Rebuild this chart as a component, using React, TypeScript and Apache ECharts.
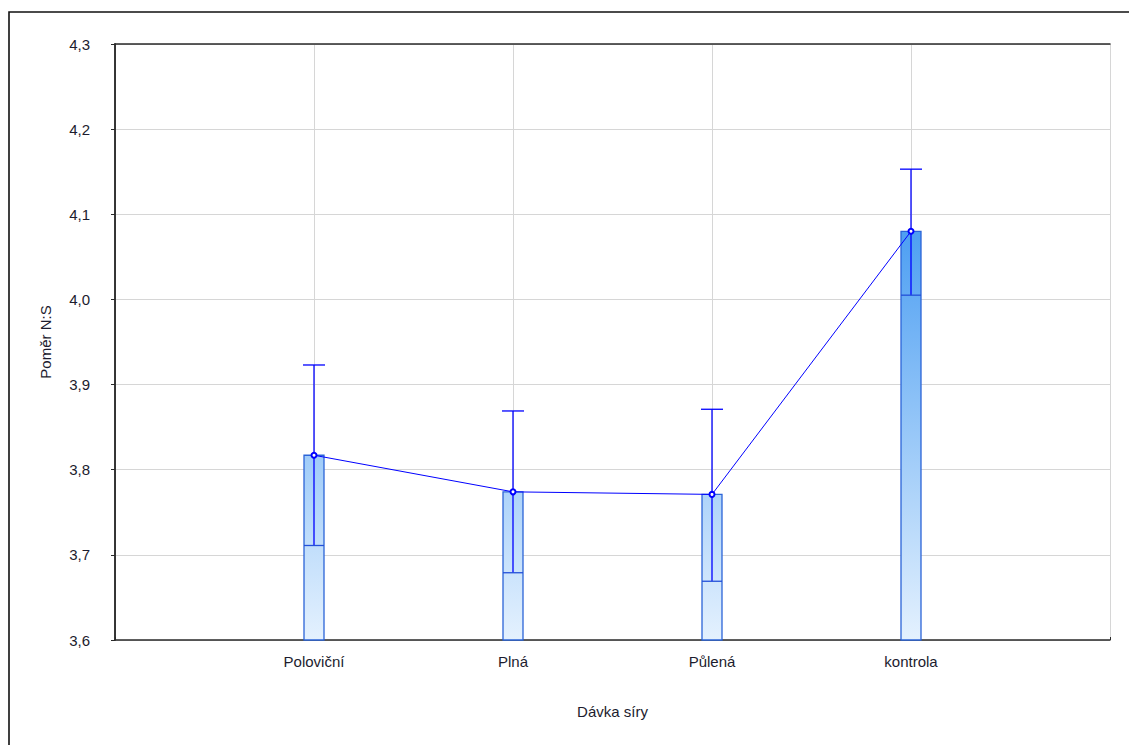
import React, { useEffect, useRef } from "react";
import * as echarts from "echarts";

const categories = ["Poloviční", "Plná", "Půlená", "kontrola"];
const categoryPositions = [1, 2, 3, 4];
const means = [3.817, 3.774, 3.771, 4.08];
const lowerBounds = [3.711, 3.679, 3.669, 4.005];
const upperBounds = [3.923, 3.869, 3.871, 4.153];
const yMin = 3.6;
const yMax = 4.3;
const yStep = 0.1;
const gradientTopValue = 4.08;

const FONT = "'Liberation Sans', Arial, sans-serif";
const TEXT = "#1c1c2e";
const AXIS = "#2a2a2a";

export default function App() {
  const ref = useRef<HTMLDivElement | null>(null);

  useEffect(() => {
    if (!ref.current) return;
    const chart = echarts.init(ref.current, undefined, { renderer: "svg" });

    const barData = categoryPositions.map((x, i) => [x, means[i]]);
    const errData = categoryPositions.map((x, i) => [x, lowerBounds[i], upperBounds[i]]);
    const lineData = categoryPositions.map((x, i) => [x, means[i]]);

    const option: any = {
      animation: false,
      backgroundColor: "#ffffff",
      textStyle: { fontFamily: FONT },
      grid: { left: 115, top: 44, right: 19, bottom: 105, containLabel: false },
      xAxis: [
        {
          type: "value",
          min: 0,
          max: 5,
          interval: 1,
          position: "bottom",
          name: "Dávka síry",
          nameLocation: "middle",
          nameGap: 64,
          nameTextStyle: { fontFamily: FONT, fontSize: 15, color: TEXT },
          axisLine: { show: true, lineStyle: { color: AXIS, width: 1.5 } },
          axisTick: { show: true, inside: true, length: 3, lineStyle: { color: AXIS } },
          axisLabel: {
            fontFamily: FONT,
            fontSize: 15,
            color: TEXT,
            margin: 14,
            formatter: (v: number) => {
              const idx = categoryPositions.indexOf(Math.round(v));
              return idx >= 0 ? categories[idx] : "";
            },
          },
          splitLine: { show: true, lineStyle: { color: "#d6d6d6", width: 1 } },
        },
        {
          type: "value",
          min: 0,
          max: 5,
          position: "top",
          axisLine: { show: true, lineStyle: { color: AXIS, width: 1.5 } },
          axisTick: { show: false },
          axisLabel: { show: false },
          splitLine: { show: false },
        },
      ],
      yAxis: [
        {
          type: "value",
          min: yMin,
          max: yMax,
          interval: yStep,
          position: "left",
          name: "Poměr N:S",
          nameLocation: "middle",
          nameGap: 62,
          nameRotate: 90,
          nameTextStyle: { fontFamily: FONT, fontSize: 15, color: TEXT },
          axisLine: { show: true, lineStyle: { color: AXIS, width: 1.5 } },
          axisTick: { show: true, inside: false, length: 4, lineStyle: { color: AXIS } },
          axisLabel: {
            fontFamily: FONT,
            fontSize: 15,
            color: TEXT,
            margin: 25,
            formatter: (v: number) => v.toFixed(1).replace(".", ","),
          },
          splitLine: { show: true, lineStyle: { color: "#d6d6d6", width: 1 } },
        },
        {
          type: "value",
          min: yMin,
          max: yMax,
          interval: yStep,
          position: "right",
          axisLine: { show: true, lineStyle: { color: AXIS, width: 1.5 } },
          axisTick: { show: true, inside: true, length: 4, lineStyle: { color: AXIS } },
          axisLabel: { show: false },
          splitLine: { show: false },
        },
      ],
      graphic: [
        {
          type: "polyline",
          shape: { points: [[9, 760], [9, 12], [1140, 12]] },
          style: { stroke: "#111111", lineWidth: 1.6, fill: "none" },
          silent: true,
        },
      ],
      series: [
        {
          type: "custom",
          xAxisIndex: 0,
          yAxisIndex: 0,
          data: barData,
          encode: { x: 0, y: 1 },
          z: 2,
          renderItem: (params: any, api: any) => {
            const x = api.value(0);
            const y = api.value(1);
            const top = api.coord([x, y]);
            const bottom = api.coord([x, yMin]);
            const gLow = api.coord([x, yMin])[1];
            const gHigh = api.coord([x, gradientTopValue])[1];
            const fill = new echarts.graphic.LinearGradient(
              0,
              gLow,
              0,
              gHigh,
              [
                { offset: 0, color: "#e4f1fe" },
                { offset: 1, color: "#4d9ff2" },
              ],
              true
            );
            return {
              type: "rect",
              shape: { x: top[0] - 10, y: top[1], width: 20, height: bottom[1] - top[1] },
              style: { fill, stroke: "#2b64d8", lineWidth: 1.3 },
            };
          },
        },
        {
          type: "custom",
          xAxisIndex: 0,
          yAxisIndex: 0,
          data: errData,
          encode: { x: 0, y: [1, 2] },
          z: 3,
          renderItem: (params: any, api: any) => {
            const x = api.value(0);
            const lo = api.coord([x, api.value(1)]);
            const hi = api.coord([x, api.value(2)]);
            const style = { stroke: "#0000ff", lineWidth: 1.3 };
            return {
              type: "group",
              children: [
                { type: "line", shape: { x1: lo[0], y1: lo[1], x2: hi[0], y2: hi[1] }, style },
                { type: "line", shape: { x1: hi[0] - 11, y1: hi[1], x2: hi[0] + 11, y2: hi[1] }, style },
                { type: "line", shape: { x1: lo[0] - 10, y1: lo[1], x2: lo[0] + 10, y2: lo[1] }, style: { stroke: "#2350d8", lineWidth: 1.3 } },
              ],
            };
          },
        },
        {
          type: "line",
          xAxisIndex: 0,
          yAxisIndex: 0,
          data: lineData,
          z: 4,
          symbol: "emptyCircle",
          symbolSize: 5,
          lineStyle: { color: "#0000ff", width: 1 },
          itemStyle: { color: "#0000ff", borderColor: "#0000ff", borderWidth: 1 },
        },
      ],
    };

    chart.setOption(option);
    return () => chart.dispose();
  }, []);

  return (
    <div
      ref={ref}
      style={{ position: "fixed", left: 0, top: 0, width: 1129, height: 745, background: "#ffffff" }}
    />
  );
}
